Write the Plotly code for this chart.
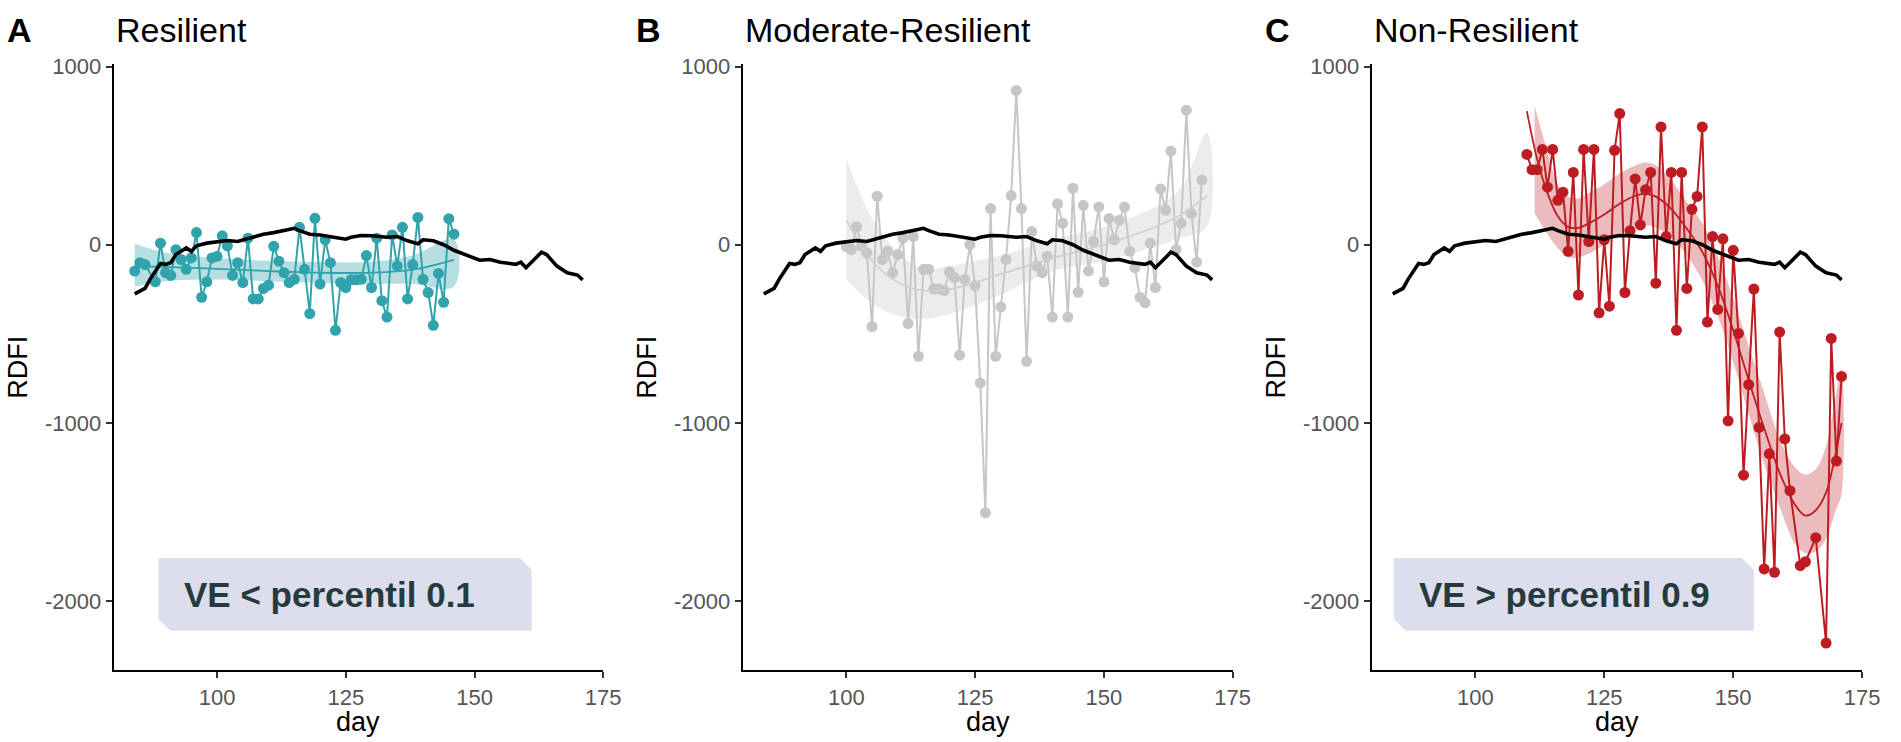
import plotly.graph_objects as go

# reference curve (black), same in every panel
ref_day = [84, 86, 87, 89, 90, 91, 92, 94, 95, 96, 98, 100, 102, 104, 107, 109, 111, 113, 115, 116,
           118, 120, 122, 125, 126, 128, 130, 132, 133, 135, 137, 139, 140, 142, 144, 146, 149, 151,
           153, 155, 158, 159, 160, 162, 163, 164, 166, 168, 169, 170, 171]
ref_rdfi = [-276, -245, -193, -105, -110, -101, -55, -18, -37, -6, 9, 18, 24, 18, 40, 59, 68, 79, 92, 79,
            59, 55, 46, 31, 42, 52, 50, 46, 42, 46, 22, 6, 28, 22, 0, -31, -64, -87,
            -83, -98, -110, -98, -129, -74, -42, -55, -120, -157, -166, -170, -197]

# A: Resilient
res_day = [84, 85, 86, 88, 89, 90, 91, 92, 93, 94, 95, 96, 97, 98, 99, 100, 101, 102, 103, 104,
           105, 106, 107, 108, 109, 110, 111, 112, 113, 114, 115, 116, 117, 118, 119, 120, 121, 122,
           123, 124, 125, 126, 127, 128, 129, 130, 131, 132, 133, 134, 135, 136, 137, 138, 139, 140,
           141, 142, 143, 144, 145, 146]
res_rdfi = [-148, -101, -111, -208, 9, -157, -172, -28, -83, -138, -74, 68, -295, -208, -74, -65, 50, -6,
            -172, -101, -212, 37, -304, -304, -245, -227, -9, -92, -157, -212, -194, 98, -138, -387,
            148, -221, 28, -101, -480, -212, -240, -197, -197, -194, -61, -240, 37, -314, -406, 55,
            -120, 98, -304, -111, 153, -194, -268, -452, -161, -323, 146, 59]
res_fit_day = [84, 90, 100, 110, 120, 130, 138, 146]
res_fit = [-120, -125, -135, -148, -157, -157, -140, -85]
res_lo = [-235, -205, -195, -205, -215, -220, -220, -235]
res_hi = [5, -45, -75, -90, -97, -95, -60, 30]

# B: Moderate-Resilient
mod_day = list(range(100, 170))
mod_rdfi = [-10, -28, 101, -9, -46, -460, 272, -83, -37, -157, -55, 37, -442, 46, -626, -138, -138,
            -249, -249, -258, -153, -184, -620, -194, 0, -230, -776, -1505, 203, -626, -350, -83, 276,
            866, 203, -654, 74, -120, -157, -64, -406, 230, 120, -406, 317, -267, 221, -147, 18, 212,
            -208, 147, 28, 138, 212, -37, -129, -295, -326, 9, -240, 313, 193, 525, -28, 120, 755,
            175, -98, 363]
mod_fit_day = [100, 105, 110, 115, 120, 125, 130, 140, 150, 160, 165, 170]
mod_fit = [138, -90, -210, -258, -250, -212, -165, -75, 0, 101, 170, 275]
mod_lo = [-194, -330, -400, -415, -390, -340, -280, -150, -92, -9, 40, 100]
mod_hi = [480, 150, -40, -138, -120, -92, -60, 28, 100, 212, 320, 630]

# C: Non-Resilient
non_day = [110, 111, 112, 113, 114, 115, 116, 117, 118, 119, 120, 121, 122, 123, 124, 125, 126, 127,
           128, 129, 130, 131, 132, 133, 134, 135, 136, 137, 138, 139, 140, 141, 142, 143, 144, 145,
           146, 147, 148, 149, 150, 151, 152, 153, 154, 155, 156, 157, 158, 159, 160, 161, 163, 164,
           166, 168, 169, 170, 171]
non_rdfi = [507, 421, 421, 535, 323, 535, 249, 295, -37, 406, -282, 535, 18, 535, -382, 28, -345, 530,
            736, -268, 79, 369, 111, 308, 406, -216, 661, 46, 406, -480, 406, -245, 199, 271, 661, -434,
            46, -363, 33, -988, -31, -498, -1293, -785, -249, -1025, -1819, -1173, -1838, -490, -1090,
            -1380, -1801, -1779, -1644, -2235, -526, -1214, -739]
non_fit_day = [110, 112, 114, 116, 118, 120, 122, 125, 128, 131, 133, 135, 138, 141, 144, 147, 150,
               153, 156, 159, 162, 164, 166, 168, 170, 171]
non_fit = [750, 480, 290, 160, 100, 95, 120, 170, 230, 275, 285, 270, 200, 90, -40, -230, -480,
           -760, -1030, -1280, -1460, -1520, -1490, -1390, -1150, -1000]
non_band_day = [111.5, 114, 116, 118, 120, 122, 125, 128, 131, 133, 135, 138, 141, 144, 147, 150,
                153, 156, 159, 162, 164, 166, 168, 170, 171]
non_lo = [175, 60, -20, -70, -70, -50, 0, 60, 105, 111, 95, 40, -60, -200, -400, -660,
          -950, -1230, -1470, -1680, -1730, -1720, -1650, -1480, -1400]
non_hi = [780, 520, 340, 270, 260, 290, 340, 400, 445, 461, 445, 360, 240, 120, -60, -300,
          -570, -830, -1090, -1250, -1290, -1260, -1130, -830, -700]

x_ticks = [100, 125, 150, 175]
y_ticks = [1000, 0, -1000, -2000]
y_tick_text = ["1000", "0", "-1000", "-2000"]

panels = [
    dict(letter="A", title="Resilient", day=res_day, rdfi=res_rdfi, fday=res_fit_day, fit=res_fit,
         bday=res_fit_day, lo=res_lo, hi=res_hi, color="#30a3ac", fill="rgba(48,163,172,0.35)",
         fitcolor="#30a3ac", label="VE < percentil 0.1", box=(88.6, 161.1)),
    dict(letter="B", title="Moderate-Resilient", day=mod_day, rdfi=mod_rdfi, fday=mod_fit_day, fit=mod_fit,
         bday=mod_fit_day, lo=mod_lo, hi=mod_hi, color="#c6c6c6", fill="rgba(200,200,200,0.35)",
         fitcolor="#cfcfcf", label=None, box=None),
    dict(letter="C", title="Non-Resilient", day=non_day, rdfi=non_rdfi, fday=non_fit_day, fit=non_fit,
         bday=non_band_day, lo=non_lo, hi=non_hi, color="#bd1c22", fill="rgba(200,60,66,0.35)",
         fitcolor="#bd1c22", label="VE > percentil 0.9", box=(84.2, 154.0)),
]

W, H = 1901, 742
x_doms = [(114.7, 609.0), (749.8, 1244.5), (1384.7, 1880.0)]
y_dom = [1 - 669.3 / H, 1 - 54.6 / H]
font = "Liberation Sans, Arial, sans-serif"

fig = go.Figure()
annotations = []
shapes = []

for i, p in enumerate(panels):
    n = "" if i == 0 else str(i + 1)
    xa, ya = "x" + n, "y" + n
    # ribbon
    fig.add_trace(go.Scatter(x=p["bday"] + p["bday"][::-1], y=p["hi"] + p["lo"][::-1],
                             fill="toself", fillcolor=p["fill"], line=dict(width=0),
                             mode="lines", line_shape="spline", hoverinfo="skip",
                             showlegend=False, xaxis=xa, yaxis=ya))
    # observations
    fig.add_trace(go.Scatter(x=p["day"], y=p["rdfi"], mode="lines+markers",
                             line=dict(color=p["color"], width=2),
                             marker=dict(color=p["color"], size=11),
                             showlegend=False, xaxis=xa, yaxis=ya))
    # smooth fit
    fig.add_trace(go.Scatter(x=p["fday"], y=p["fit"], mode="lines", line_shape="spline",
                             line=dict(color=p["fitcolor"], width=1.8),
                             showlegend=False, xaxis=xa, yaxis=ya))
    # reference
    fig.add_trace(go.Scatter(x=ref_day, y=ref_rdfi, mode="lines",
                             line=dict(color="black", width=3.6),
                             showlegend=False, xaxis=xa, yaxis=ya))

    x0, x1 = x_doms[i]
    axis_common = dict(showgrid=False, zeroline=False, showline=True, linecolor="black", linewidth=2,
                       ticks="outside", ticklen=6, tickwidth=2, tickcolor="#333333",
                       tickfont=dict(family=font, size=22, color="#555555"))
    fig.layout["xaxis" + n] = dict(domain=[x0 / W, x1 / W], range=[79.9, 175.0], anchor=ya,
                                   tickvals=x_ticks, **axis_common)
    fig.layout["yaxis" + n] = dict(domain=y_dom, range=[-2388, 1015], anchor=xa,
                                   tickvals=y_ticks, ticktext=y_tick_text, **axis_common)

    # panel letter and title
    annotations.append(dict(text="<b>" + p["letter"] + "</b>", xref="paper", yref="paper",
                            x=(x0 - 110) / W, y=1 - 20 / H, xanchor="left", yanchor="middle",
                            showarrow=False, font=dict(family=font, size=34, color="black")))
    annotations.append(dict(text=p["title"], xref="paper", yref="paper",
                            x=x0 / W, y=1 - 20 / H, xanchor="left", yanchor="middle",
                            showarrow=False, font=dict(family=font, size=34, color="black")))
    # axis titles
    annotations.append(dict(text="RDFI", xref="paper", yref="paper", textangle=-90,
                            x=(x0 - 96) / W, y=1 - 362 / H, xanchor="center", yanchor="middle",
                            showarrow=False, font=dict(family=font, size=27, color="black")))
    annotations.append(dict(text="day", xref="paper", yref="paper",
                            x=(x0 + x1) / 2 / W, y=1 - 722 / H, xanchor="center", yanchor="middle",
                            showarrow=False, font=dict(family=font, size=27, color="black")))

    if p["label"]:
        bx0, bx1 = p["box"]
        y0, y1 = -2166, -1758
        cx, cy = 2.3, 66
        path = (f"M {bx0},{y1} L {bx1 - cx},{y1} L {bx1},{y1 - cy} L {bx1},{y0} "
                f"L {bx0 + cx},{y0} L {bx0},{y0 + cy} Z")
        shapes.append(dict(type="path", path=path, xref=xa, yref=ya, fillcolor="#dcdeed",
                           line=dict(width=0), layer="below"))
        annotations.append(dict(text="<b>" + p["label"] + "</b>", xref=xa, yref=ya,
                                x=bx0 + 4.6, y=(y0 + y1) / 2, xanchor="left", yanchor="middle",
                                showarrow=False, font=dict(family=font, size=35, color="#263a3c")))

fig.update_layout(width=W, height=H, margin=dict(l=0, r=0, t=0, b=0),
                  plot_bgcolor="white", paper_bgcolor="white", hovermode=False,
                  annotations=annotations, shapes=shapes, showlegend=False)

# drop the browser's default body margin so the figure sits at the page corner
fig.write_html("out.html", config={"displayModeBar": False},
               post_script="document.body.style.margin='0';")
